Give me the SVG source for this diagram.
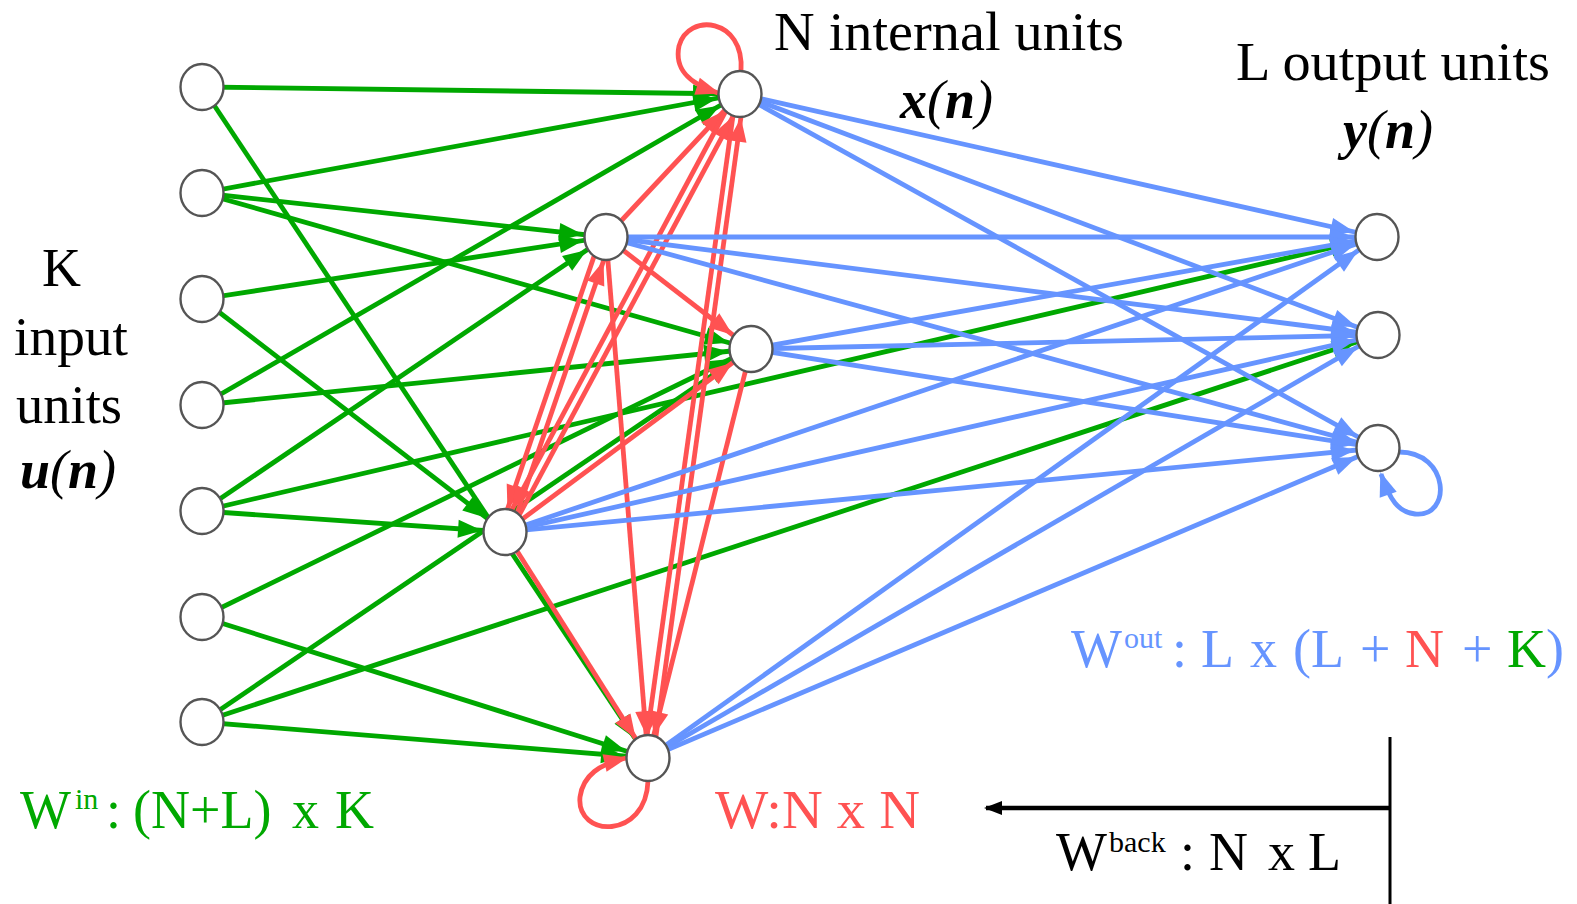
<svg xmlns="http://www.w3.org/2000/svg" width="1577" height="904" viewBox="0 0 1577 904">
<style>
.g{stroke:#00a800;stroke-width:4.8;fill:none;marker-end:url(#ag)}
.r{stroke:#ff5252;stroke-width:4.8;fill:none;marker-end:url(#ar)}
.b{stroke:#6694ff;stroke-width:4.8;fill:none;marker-end:url(#ab)}
.n{fill:#fff;stroke:#555;stroke-width:2.4}
.t{font-family:"Liberation Serif","Times New Roman",serif;font-size:54px}
.v{font-family:"Liberation Serif","Times New Roman",serif;font-size:54px;font-style:italic}
.s{font-size:30px}
</style>
<defs>
<marker id="ag" markerUnits="userSpaceOnUse" markerWidth="24" markerHeight="18" refX="47" refY="9" orient="auto" overflow="visible"><path d="M0,0 L24,9 L0,18 Z" fill="#00a800"/></marker>
<marker id="ar" markerUnits="userSpaceOnUse" markerWidth="24" markerHeight="18" refX="47" refY="9" orient="auto" overflow="visible"><path d="M0,0 L24,9 L0,18 Z" fill="#ff5252"/></marker>
<marker id="ab" markerUnits="userSpaceOnUse" markerWidth="24" markerHeight="18" refX="47" refY="9" orient="auto" overflow="visible"><path d="M0,0 L24,9 L0,18 Z" fill="#6694ff"/></marker>
<marker id="arl" markerUnits="userSpaceOnUse" markerWidth="24" markerHeight="18" refX="22" refY="9" orient="auto" overflow="visible"><path d="M0,0 L24,9 L0,18 Z" fill="#ff5252"/></marker>
<marker id="abl" markerUnits="userSpaceOnUse" markerWidth="24" markerHeight="18" refX="22" refY="9" orient="auto" overflow="visible"><path d="M0,0 L24,9 L0,18 Z" fill="#6694ff"/></marker>
<marker id="ak" markerUnits="userSpaceOnUse" markerWidth="18" markerHeight="16" refX="16" refY="8" orient="auto" overflow="visible"><path d="M0,1 L18,8 L0,15 Z" fill="#000"/></marker>
</defs>
<rect width="1577" height="904" fill="#fff"/>
<g id="connectors">
<line class="g" x1="202" y1="87" x2="740" y2="94"/>
<line class="g" x1="202" y1="87" x2="648" y2="758"/>
<line class="g" x1="202" y1="193" x2="740" y2="94"/>
<line class="g" x1="202" y1="193" x2="606" y2="237"/>
<line class="g" x1="202" y1="193" x2="751" y2="349"/>
<line class="g" x1="202" y1="299" x2="606" y2="237"/>
<line class="g" x1="202" y1="299" x2="505" y2="532"/>
<line class="g" x1="202" y1="405" x2="740" y2="94"/>
<line class="g" x1="202" y1="405" x2="751" y2="349"/>
<line class="g" x1="202" y1="511" x2="606" y2="237"/>
<line class="g" x1="202" y1="511" x2="505" y2="532"/>
<line class="g" x1="202" y1="511" x2="1377" y2="237"/>
<line class="g" x1="202" y1="617" x2="751" y2="349"/>
<line class="g" x1="202" y1="617" x2="648" y2="758"/>
<line class="g" x1="202" y1="722" x2="751" y2="349"/>
<line class="g" x1="202" y1="722" x2="648" y2="758"/>
<line class="g" x1="202" y1="722" x2="1378" y2="335"/>
<line class="r" x1="606" y1="237" x2="740" y2="94"/>
<line class="r" x1="509" y1="534" x2="744" y2="96"/>
<line class="r" x1="653" y1="758" x2="744" y2="95"/>
<line class="r" x1="606" y1="237" x2="751" y2="349"/>
<line class="r" x1="505" y1="532" x2="751" y2="349"/>
<line class="r" x1="601" y1="236" x2="500" y2="531"/>
<line class="r" x1="510" y1="534" x2="611" y2="239"/>
<line class="r" x1="736" y1="92" x2="501" y2="530"/>
<line class="r" x1="736" y1="94" x2="644" y2="758"/>
<line class="r" x1="606" y1="237" x2="648" y2="758"/>
<line class="r" x1="751" y1="349" x2="648" y2="758"/>
<line class="r" x1="505" y1="532" x2="648" y2="758"/>
<path style="stroke:#ff5252;stroke-width:4.8;fill:none;marker-end:url(#arl)" d="M741 71 C745 18 688 12 679 46 C674 70 690 84 718 93"/>
<path style="stroke:#ff5252;stroke-width:4.8;fill:none;marker-end:url(#arl)" d="M648 781 C646 840 576 838 580 797 C583 775 600 764 626 758"/>
<line class="b" x1="740" y1="94" x2="1377" y2="237"/>
<line class="b" x1="740" y1="94" x2="1378" y2="335"/>
<line class="b" x1="740" y1="94" x2="1378" y2="448"/>
<line class="b" x1="606" y1="237" x2="1377" y2="237"/>
<line class="b" x1="606" y1="237" x2="1378" y2="335"/>
<line class="b" x1="606" y1="237" x2="1378" y2="448"/>
<line class="b" x1="751" y1="349" x2="1377" y2="237"/>
<line class="b" x1="751" y1="349" x2="1378" y2="335"/>
<line class="b" x1="751" y1="349" x2="1378" y2="448"/>
<line class="b" x1="505" y1="532" x2="1377" y2="237"/>
<line class="b" x1="505" y1="532" x2="1378" y2="335"/>
<line class="b" x1="505" y1="532" x2="1378" y2="448"/>
<line class="b" x1="648" y1="758" x2="1377" y2="237"/>
<line class="b" x1="648" y1="758" x2="1378" y2="335"/>
<line class="b" x1="648" y1="758" x2="1378" y2="448"/>
<path style="stroke:#6694ff;stroke-width:4.8;fill:none;marker-end:url(#abl)" d="M1399 452 C1450 452 1452 518 1415 514 C1398 512 1390 500 1381 474"/>
<line x1="1390" y1="737" x2="1390" y2="904" stroke="#000" stroke-width="3"/>
<line x1="1390" y1="808" x2="986" y2="808" stroke="#000" stroke-width="4.5" marker-end="url(#ak)"/>
</g>
<g id="in1"><ellipse class="n" cx="202" cy="87" rx="21.5" ry="23"/></g>
<g id="in2"><ellipse class="n" cx="202" cy="193" rx="21.5" ry="23"/></g>
<g id="in3"><ellipse class="n" cx="202" cy="299" rx="21.5" ry="23"/></g>
<g id="in4"><ellipse class="n" cx="202" cy="405" rx="21.5" ry="23"/></g>
<g id="in5"><ellipse class="n" cx="202" cy="511" rx="21.5" ry="23"/></g>
<g id="in6"><ellipse class="n" cx="202" cy="617" rx="21.5" ry="23"/></g>
<g id="in7"><ellipse class="n" cx="202" cy="722" rx="21.5" ry="23"/></g>
<g id="x1"><ellipse class="n" cx="740" cy="94" rx="21.5" ry="23"/></g>
<g id="x2"><ellipse class="n" cx="606" cy="237" rx="21.5" ry="23"/></g>
<g id="x3"><ellipse class="n" cx="751" cy="349" rx="21.5" ry="23"/></g>
<g id="x4"><ellipse class="n" cx="505" cy="532" rx="21.5" ry="23"/></g>
<g id="x5"><ellipse class="n" cx="648" cy="758" rx="21.5" ry="23"/></g>
<g id="y1"><ellipse class="n" cx="1377" cy="237" rx="21.5" ry="23"/></g>
<g id="y2"><ellipse class="n" cx="1378" cy="335" rx="21.5" ry="23"/></g>
<g id="y3"><ellipse class="n" cx="1378" cy="448" rx="21.5" ry="23"/></g>
<g id="labels">
<text class="t" x="774" y="50" textLength="350" lengthAdjust="spacingAndGlyphs">N internal units</text>
<text class="v" x="900" y="118"><tspan font-weight="bold">x</tspan>(<tspan font-weight="bold">n</tspan>)</text>
<text class="t" x="1236" y="80" textLength="314" lengthAdjust="spacingAndGlyphs">L output units</text>
<text class="v" x="1343" y="148"><tspan font-weight="bold">y</tspan>(<tspan font-weight="bold">n</tspan>)</text>
<text class="t" x="42" y="286">K</text>
<text class="t" x="14" y="355" textLength="114" lengthAdjust="spacingAndGlyphs">input</text>
<text class="t" x="16" y="423" textLength="106" lengthAdjust="spacingAndGlyphs">units</text>
<text class="v" x="20" y="488"><tspan font-weight="bold">u</tspan>(<tspan font-weight="bold">n</tspan>)</text>
<text class="t" fill="#00a800" x="20" y="828">W<tspan class="s" x="75" y="809">in</tspan><tspan x="106" y="828">:</tspan><tspan x="133">(N+L)</tspan><tspan x="292">x</tspan><tspan x="335">K</tspan></text>
<text class="t" fill="#ff5252" x="715" y="828" textLength="205" lengthAdjust="spacingAndGlyphs">W:N x N</text>
<text class="t" fill="#6694ff" x="1071" y="667">W<tspan class="s" x="1124" y="648">out</tspan><tspan x="1172" y="667">:</tspan><tspan x="1201">L</tspan><tspan x="1250">x</tspan><tspan x="1293">(</tspan><tspan x="1311">L</tspan><tspan x="1360">+</tspan><tspan x="1405" fill="#ff5252">N</tspan><tspan x="1462">+</tspan><tspan x="1507" fill="#00a800">K</tspan><tspan x="1546">)</tspan></text>
<text class="t" fill="#000" x="1056" y="870">W<tspan class="s" x="1109" y="852">back</tspan><tspan x="1180" y="870">:</tspan><tspan x="1209">N</tspan><tspan x="1268">x</tspan><tspan x="1308">L</tspan></text>
</g>
</svg>
